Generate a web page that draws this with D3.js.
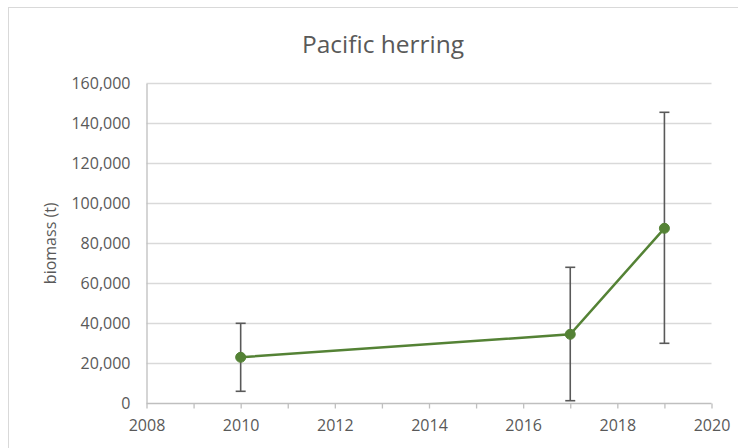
<!DOCTYPE html>
<html>
<head>
<meta charset="utf-8">
<script src="https://cdn.jsdelivr.net/npm/d3@7"></script>
<style>
  body { margin: 0; background: #fff; }
  text { font-family: "Open Sans", Lato, sans-serif; fill: #595959; }
</style>
</head>
<body>
<div id="chart"></div>
<script>
// Survey years and biomass estimates (t)
const years = [2010, 2017, 2019];
const biomass = [23000, 34500, 87500];
// Lower and upper ends of the error bars
const lower = [6000, 1300, 30000];
const upper = [40000, 68000, 145500];

const yTicks = [0, 20000, 40000, 60000, 80000, 100000, 120000, 140000, 160000];
const xLabels = [2008, 2010, 2012, 2014, 2016, 2018, 2020];

const width = 738;
const height = 448;

const svg = d3.select('#chart')
  .append('svg')
  .attr('width', width)
  .attr('height', height);

// Outer chart border
svg.append('rect')
  .attr('x', 8.5)
  .attr('y', 7.5)
  .attr('width', 760)
  .attr('height', 480)
  .style('fill', 'none')
  .style('stroke', '#d9d9d9');

const x = d3.scaleLinear().domain([2008, 2020]).range([146.5, 711.5]);
const y = d3.scaleLinear().domain([0, 160000]).range([403.3, 83.3]);

// Gridlines
svg.append('g')
  .selectAll('line')
  .data(yTicks.slice(1))
  .enter()
  .append('line')
  .attr('x1', x(2008))
  .attr('x2', x(2020))
  .attr('y1', d => Math.round(y(d)) + 0.5)
  .attr('y2', d => Math.round(y(d)) + 0.5)
  .style('stroke', '#d9d9d9')
  .style('stroke-width', 1.3);

// Y axis
const yAxis = svg.append('g')
  .attr('transform', `translate(${x(2008)},0)`)
  .call(d3.axisLeft(y).tickValues(yTicks).tickSize(0).tickPadding(16)
    .tickFormat(d3.format(',')));
yAxis.select('.domain').style('stroke', '#bfbfbf').style('stroke-width', 1.3);
yAxis.selectAll('text').style('font-size', '16px').style('fill', '#595959');

// X axis, ticks every year, labels every two
const xAxis = svg.append('g')
  .attr('transform', `translate(0,${Math.round(y(0)) + 0.5})`)
  .call(d3.axisBottom(x).tickValues(d3.range(2008, 2021)).tickSize(5).tickPadding(11)
    .tickFormat(d => xLabels.includes(d) ? d : ''));
xAxis.select('.domain').attr('d', `M${x(2008)},0H${x(2020)}`)
  .style('stroke', '#bfbfbf').style('stroke-width', 1.3);
xAxis.selectAll('line').style('stroke', '#bfbfbf').style('stroke-width', 1.3);
xAxis.selectAll('text').style('font-size', '16px').style('fill', '#595959');

// Title
svg.append('text')
  .text('Pacific herring')
  .attr('x', 383)
  .attr('y', 53)
  .style('text-anchor', 'middle')
  .style('font-size', '24.5px');

// Y axis title
svg.append('text')
  .text('biomass (t)')
  .attr('transform', `translate(56,${y(80000)}) rotate(-90)`)
  .style('text-anchor', 'middle')
  .style('font-size', '16px');

const data = years.map((d, i) => ({year: d, value: biomass[i], lo: lower[i], hi: upper[i]}));

// Line
svg.append('path')
  .datum(data)
  .attr('d', d3.line().x(d => x(d.year)).y(d => y(d.value)))
  .style('fill', 'none')
  .style('stroke', '#548235')
  .style('stroke-width', 2.5);

// Error bars
const err = svg.append('g')
  .selectAll('g')
  .data(data)
  .enter()
  .append('g')
  .style('stroke', '#595959')
  .style('stroke-width', 1.6);
err.append('line')
  .attr('x1', d => x(d.year)).attr('x2', d => x(d.year))
  .attr('y1', d => y(d.lo)).attr('y2', d => y(d.hi));
err.append('line')
  .attr('x1', d => x(d.year) - 5).attr('x2', d => x(d.year) + 5)
  .attr('y1', d => y(d.lo)).attr('y2', d => y(d.lo));
err.append('line')
  .attr('x1', d => x(d.year) - 5).attr('x2', d => x(d.year) + 5)
  .attr('y1', d => y(d.hi)).attr('y2', d => y(d.hi));

// Markers
svg.append('g')
  .selectAll('circle')
  .data(data)
  .enter()
  .append('circle')
  .attr('cx', d => x(d.year))
  .attr('cy', d => y(d.value))
  .attr('r', 5)
  .style('fill', '#548235')
  .style('stroke', '#548235');
</script>
</body>
</html>
